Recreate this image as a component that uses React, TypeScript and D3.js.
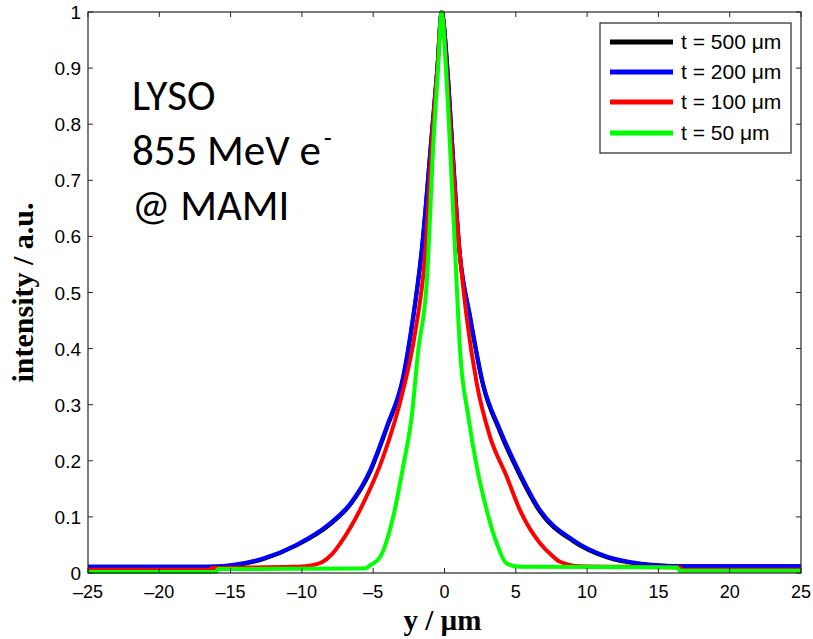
import React, { useEffect, useRef } from "react";
import * as d3 from "d3";

// t = 500 um (mostly hidden under the 200 um curve)
const blackX = [-25, -16.7, -15, -12.7, -10.4, -8.0, -6.6, -5.2, -4.05, -2.9, -2.2, -1.6, -0.9, -0.5, -0.2, 0.2, 0.5, 1.05, 1.8, 2.7, 3.9, 5.05, 6.7, 9.0, 11.4, 13.7, 15, 16.5, 25];
const blackY = [0.011, 0.011, 0.013, 0.025, 0.049, 0.087, 0.122, 0.181, 0.258, 0.347, 0.454, 0.573, 0.78, 0.9, 1, 0.9, 0.78, 0.573, 0.454, 0.335, 0.251, 0.186, 0.109, 0.057, 0.028, 0.016, 0.013, 0.012, 0.012];

// t = 200 um
const blueX = [-25, -16.7, -15, -12.7, -10.4, -8.0, -6.6, -5.2, -4.05, -2.9, -2.2, -1.6, -0.9, -0.5, -0.2, 0.2, 0.5, 1.05, 1.8, 2.7, 3.9, 5.05, 6.7, 9.0, 11.4, 13.7, 15, 16.5, 25];
const blueY = [0.011, 0.011, 0.014, 0.026, 0.05, 0.089, 0.124, 0.184, 0.261, 0.35, 0.457, 0.576, 0.78, 0.9, 1, 0.9, 0.78, 0.576, 0.457, 0.338, 0.255, 0.19, 0.112, 0.059, 0.029, 0.017, 0.014, 0.012, 0.012];

// t = 100 um
const redX = [-25, -16.5, -16.3, -10.6, -9.5, -8.6, -7.9, -7.3, -5.7, -4.3, -2.9, -2.07, -1.35, -0.85, -0.5, -0.2, 0.15, 0.45, 1.05, 1.55, 2.26, 3.19, 4.36, 5.29, 6.7, 7.5, 8.1, 9.5, 16.5, 16.7, 25];
const redY = [0.006, 0.006, 0.009, 0.011, 0.013, 0.019, 0.033, 0.053, 0.124, 0.207, 0.326, 0.427, 0.57, 0.78, 0.9, 1, 0.9, 0.78, 0.576, 0.457, 0.338, 0.243, 0.172, 0.112, 0.053, 0.032, 0.02, 0.012, 0.01, 0.006, 0.006];

// t = 50 um
const greenX = [-25, -16, -15.9, -5.6, -5.2, -4.5, -3.6, -2.9, -2.3, -1.84, -1.25, -0.75, -0.45, -0.2, 0.1, 0.35, 0.74, 1.09, 1.67, 2.26, 2.96, 3.66, 4.36, 5.3, 16.3, 16.5, 25];
const greenY = [0.002, 0.002, 0.007, 0.008, 0.014, 0.029, 0.1, 0.19, 0.279, 0.397, 0.516, 0.78, 0.9, 1, 0.9, 0.78, 0.576, 0.397, 0.279, 0.19, 0.112, 0.053, 0.017, 0.011, 0.01, 0.004, 0.004];

const seriesNames = ["t = 500 \u03bcm", "t = 200 \u03bcm", "t = 100 \u03bcm", "t = 50 \u03bcm"];
const seriesColors = ["#000000", "#0000ff", "#ff0000", "#00ff00"];
const xTicks = [-25, -20, -15, -10, -5, 0, 5, 10, 15, 20, 25];
const yTicks = [0, 0.1, 0.2, 0.3, 0.4, 0.5, 0.6, 0.7, 0.8, 0.9, 1];
const noteLines = ["LYSO", "855 MeV e", "@ MAMI"];

export default function App() {
  const ref = useRef<SVGSVGElement>(null);

  useEffect(() => {
    const svg = d3.select(ref.current);
    svg.selectAll("*").remove();

    const left = 88, right = 801, top = 12, bottom = 573;
    const x = d3.scaleLinear().domain([-25, 25]).range([left, right]);
    const y = d3.scaleLinear().domain([0, 1]).range([bottom, top]);

    const data = [
      blackX.map((v, i) => [v, blackY[i]]),
      blueX.map((v, i) => [v, blueY[i]]),
      redX.map((v, i) => [v, redY[i]]),
      greenX.map((v, i) => [v, greenY[i]]),
    ];

    const line = d3
      .line<number[]>()
      .x((d) => x(d[0]))
      .y((d) => y(d[1]))
      .curve(d3.curveMonotoneX);

    data.forEach((s, i) => {
      svg
        .append("path")
        .attr("d", line(s))
        .attr("fill", "none")
        .attr("stroke", seriesColors[i])
        .attr("stroke-width", 4)
        .attr("stroke-linejoin", "round");
    });

    // box
    svg
      .append("rect")
      .attr("x", left)
      .attr("y", top)
      .attr("width", right - left)
      .attr("height", bottom - top)
      .attr("fill", "none")
      .attr("stroke", "#262626")
      .attr("stroke-width", 1.2);

    const axisFont = "'Liberation Sans', Arial, sans-serif";
    const tk = 5;

    // x ticks
    xTicks.forEach((t) => {
      const px = x(t);
      svg.append("line").attr("x1", px).attr("x2", px).attr("y1", bottom).attr("y2", bottom - tk).attr("stroke", "#262626");
      svg.append("line").attr("x1", px).attr("x2", px).attr("y1", top).attr("y2", top + tk).attr("stroke", "#262626");
      svg
        .append("text")
        .attr("x", px)
        .attr("y", bottom + 25)
        .attr("text-anchor", "middle")
        .attr("font-family", axisFont)
        .attr("font-size", 18)
        .text(t < 0 ? "\u2013" + Math.abs(t) : String(t));
    });

    // y ticks
    yTicks.forEach((t) => {
      const py = y(t);
      svg.append("line").attr("x1", left).attr("x2", left + tk).attr("y1", py).attr("y2", py).attr("stroke", "#262626");
      svg.append("line").attr("x1", right).attr("x2", right - tk).attr("y1", py).attr("y2", py).attr("stroke", "#262626");
      svg
        .append("text")
        .attr("x", left - 7)
        .attr("y", py + 7)
        .attr("text-anchor", "end")
        .attr("font-family", axisFont)
        .attr("font-size", 19)
        .text(String(t));
    });

    // axis titles
    svg
      .append("text")
      .attr("x", (left + right) / 2 - 2)
      .attr("y", 630)
      .attr("text-anchor", "middle")
      .attr("font-family", "'Liberation Serif', 'Times New Roman', serif")
      .attr("font-weight", "bold")
      .attr("font-size", 29)
      .text("y / \u00b5m");

    svg
      .append("text")
      .attr("transform", `translate(33,${(top + bottom) / 2}) rotate(-90)`)
      .attr("text-anchor", "middle")
      .attr("font-family", "'Liberation Serif', 'Times New Roman', serif")
      .attr("font-weight", "bold")
      .attr("font-size", 30)
      .text("intensity / a.u.");

    // legend
    const lg = svg.append("g");
    lg.append("rect")
      .attr("x", 600)
      .attr("y", 23)
      .attr("width", 191)
      .attr("height", 130)
      .attr("fill", "#fff")
      .attr("stroke", "#262626")
      .attr("stroke-width", 1.2);
    const rowY = [42, 72, 102, 133];
    seriesNames.forEach((name, i) => {
      lg.append("line")
        .attr("x1", 610)
        .attr("x2", 673)
        .attr("y1", rowY[i])
        .attr("y2", rowY[i])
        .attr("stroke", seriesColors[i])
        .attr("stroke-width", 5);
      lg.append("text")
        .attr("x", 681)
        .attr("y", rowY[i] + 7)
        .attr("font-family", axisFont)
        .attr("font-size", 21)
        .text(name);
    });

    // annotation
    const note = svg
      .append("g")
      .attr("font-family", "Carlito, 'Open Sans', 'Liberation Sans', sans-serif")
      .attr("font-size", 43);
    noteLines.forEach((ln, i) => {
      const t = note.append("text").attr("x", 132).attr("y", 110 + i * 55).text(ln);
      if (i === 1) {
        t.append("tspan").attr("dx", 3).attr("dy", -18).attr("font-size", 26).text("-");
      }
    });
  }, []);

  return (
    <svg
      ref={ref}
      width={813}
      height={639}
      style={{ position: "absolute", left: 0, top: 0, background: "#fff" }}
    />
  );
}
